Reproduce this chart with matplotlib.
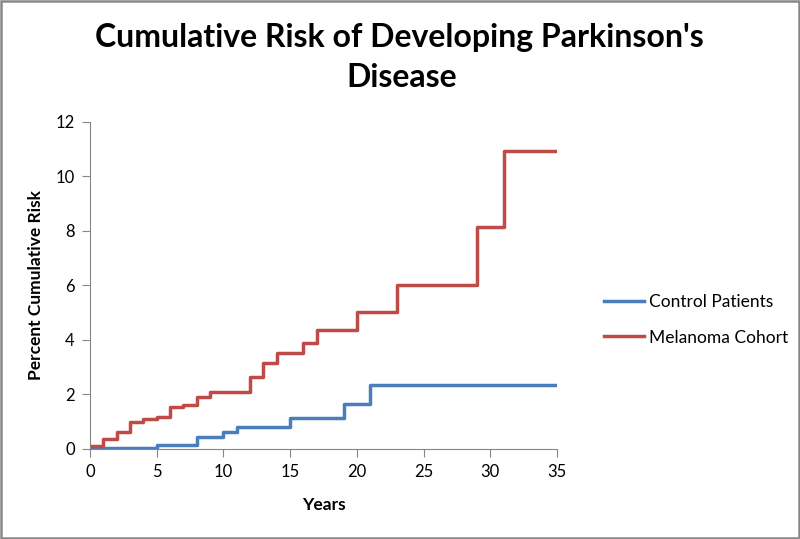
import matplotlib
matplotlib.use('Agg')
import matplotlib.pyplot as plt
from matplotlib.patches import Rectangle

plt.rcParams['font.family'] = ['Lato', 'DejaVu Sans']

# step data (years, percent cumulative risk)
control_years = [0, 5, 8, 10, 11, 15, 19, 21, 35]
control_risk = [0.05, 0.15, 0.45, 0.62, 0.82, 1.13, 1.65, 2.33, 2.33]

melanoma_years = [0, 1, 2, 3, 4, 5, 6, 7, 8, 9, 12, 13, 14, 16, 17, 20, 23, 29, 31, 35]
melanoma_risk = [0.11, 0.38, 0.64, 1.0, 1.09, 1.16, 1.53, 1.61, 1.92, 2.08,
                 2.63, 3.17, 3.51, 3.9, 4.37, 5.04, 6.02, 8.16, 10.92, 10.92]

x_ticks = [0, 5, 10, 15, 20, 25, 30, 35]
y_ticks = [0, 2, 4, 6, 8, 10, 12]

fig = plt.figure(figsize=(8, 5.39), dpi=100)
ax = fig.add_axes([0.1125, 0.167, 0.58375, 0.6067])

ax.step(control_years, control_risk, where='post', color='#4A7EBB', lw=2.5, label='Control Patients')
ax.step(melanoma_years, melanoma_risk, where='post', color='#BE4B48', lw=2.5, label='Melanoma Cohort')

ax.set_xlim(0, 35)
ax.set_ylim(0, 12)
ax.set_xticks(x_ticks)
ax.set_yticks(y_ticks)
for s in ['top', 'right']:
    ax.spines[s].set_visible(False)
for s in ['left', 'bottom']:
    ax.spines[s].set_color('#868686')
ax.tick_params(direction='out', length=6, color='#868686', labelsize=12, pad=5)

ax.set_xlabel('Years', fontsize=12.5, fontweight='bold', labelpad=12)
ax.set_ylabel('Percent Cumulative Risk', fontsize=12.5, fontweight='bold', labelpad=8)

# title, two lines as in the original
fig.text(0.499, 1 - 47 / 539, "Cumulative Risk of Developing Parkinson's",
         ha='center', va='baseline', fontsize=23, fontweight='bold')
fig.text(0.502, 1 - 87 / 539, "Disease",
         ha='center', va='baseline', fontsize=23, fontweight='bold')

fig.legend(loc='center left', bbox_to_anchor=(0.735, 1 - 320 / 539), frameon=False,
           fontsize=12.5, handlelength=2.3, labelspacing=1.1, handletextpad=0.3)

# gray frame around the whole chart
fig.patches.append(Rectangle((0.001, 0.001), 0.998, 0.998, transform=fig.transFigure,
                             fill=False, edgecolor='#888888', lw=1.8))

fig.savefig('out.png', dpi=100)
